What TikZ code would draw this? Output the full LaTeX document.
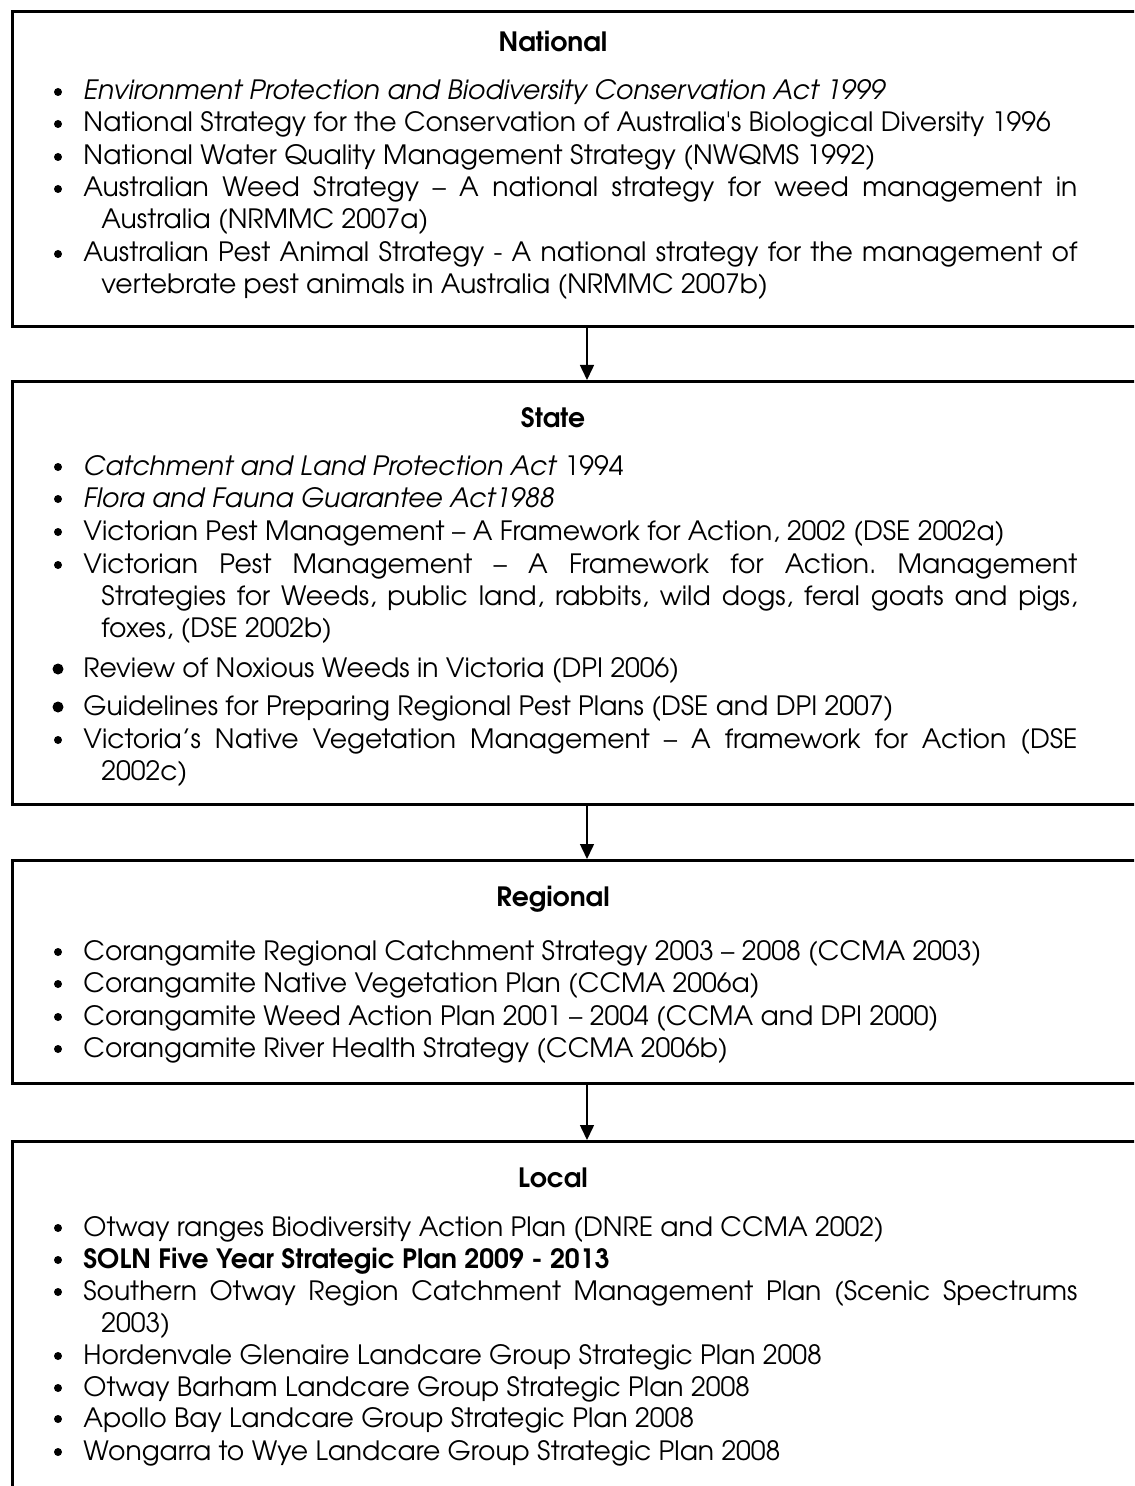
\documentclass[tikz,border=0pt]{standalone}
\usepackage{fontspec}
\IfFontExistsTF{TeX Gyre Adventor}{\setmainfont{TeX Gyre Adventor}}{\setmainfont{Poppins}}
\usetikzlibrary{arrows.meta}
\newlength{\du}
\setlength{\du}{0.5pt}
\tolerance=10000
\hbadness=10000
\frenchspacing
\newcommand{\itm}[1]{\hangindent=18\du\hangafter=1\relax #1\par}

\tikzset{
  levelbox/.style={draw=black, line width=3\du, minimum width=1250\du, inner sep=0pt, anchor=north west},
  leveltitle/.style={font=\fontsize{13.3}{16}\selectfont\bfseries, inner sep=0pt, anchor=base},
  itemtext/.style={font=\fontsize{13.3}{16}\selectfont\frenchspacing, inner sep=0pt, anchor=base west, text width=994\du, align=justify},
  flow/.style={line width=1.5\du, -{Triangle[length=7.5pt,width=7pt]}},
}

\begin{document}
\begin{tikzpicture}
\pgftransformxscale{1.000000}
\pgftransformyscale{-1.000000}
\useasboundingbox (0\du,0\du) rectangle (1134\du,1486\du);
\clip (0\du,0\du) rectangle (1134\du,1486\du);
% boxes
\node[levelbox, minimum height=315\du] (national) at (11\du,10\du) {};
\node[levelbox, minimum height=423\du] (state) at (11\du,380\du) {};
\node[levelbox, minimum height=223\du] (regional) at (11\du,859\du) {};
\node[levelbox, minimum height=420\du] (local) at (11\du,1140\du) {};
\coordinate (arrx) at (587\du,0\du);
% arrows
\draw[flow] (national.south -| arrx) -- (state.north -| arrx);
\draw[flow] (state.south -| arrx) -- (regional.north -| arrx);
\draw[flow] (regional.south -| arrx) -- (local.north -| arrx);
% National
\node[leveltitle] (natTitle) at (553\du,52\du) {National};
\node[itemtext] (nat1) at (83\du,100\du) {\itm{\textit{Environment Protection and Biodiversity Conservation Act 1999}}};
\node[itemtext] (nat2) at (83\du,132\du) {\itm{National Strategy for the Conservation of Australia\textquotesingle s Biological Diversity 1996}};
\node[itemtext] (nat3) at (83\du,165\du) {\itm{National Water Quality Management Strategy (NWQMS 1992)}};
\node[itemtext] (nat4) at (83\du,197\du) {\itm{Australian Weed Strategy -- A national strategy for weed management in\linebreak Australia (NRMMC 2007a)}};
\node[itemtext] (nat5) at (83\du,262\du) {\itm{Australian Pest Animal Strategy - A national strategy for the management of\linebreak vertebrate pest animals in Australia (NRMMC 2007b)}};
\fill (58\du,92\du) circle (4\du);
\fill (58\du,124\du) circle (4\du);
\fill (58\du,157\du) circle (4\du);
\fill (58\du,189\du) circle (4\du);
\fill (58\du,254\du) circle (4\du);
% State
\node[leveltitle] (staTitle) at (553\du,428\du) {State};
\node[itemtext] (sta1) at (83\du,475\du) {\itm{\textit{Catchment and Land Protection Act} 1994}};
\node[itemtext] (sta2) at (83\du,507\du) {\itm{\textit{Flora and Fauna Guarantee Act1988}}};
\node[itemtext] (sta3) at (83\du,540\du) {\itm{Victorian Pest Management -- A Framework for Action, 2002 (DSE 2002a)}};
\node[itemtext] (sta4) at (83\du,573\du) {\itm{Victorian Pest Management -- A Framework for Action. Management\linebreak Strategies for Weeds, public land, rabbits, wild dogs, feral goats and pigs,\linebreak foxes, (DSE 2002b)}};
\node[itemtext] (sta5) at (83\du,677\du) {\itm{Review of Noxious Weeds in Victoria (DPI 2006)}};
\node[itemtext] (sta6) at (83\du,715\du) {\itm{Guidelines for Preparing Regional Pest Plans (DSE and DPI 2007)}};
\node[itemtext] (sta7) at (83\du,748\du) {\itm{Victoria’s Native Vegetation Management -- A framework for Action (DSE\linebreak 2002c)}};
\fill (58\du,467\du) circle (4\du);
\fill (58\du,499\du) circle (4\du);
\fill (58\du,532\du) circle (4\du);
\fill (58\du,565\du) circle (4\du);
\fill (58\du,669\du) circle (5.5\du);
\fill (58\du,707\du) circle (5.5\du);
\fill (58\du,740\du) circle (4\du);
% Regional
\node[leveltitle] (regTitle) at (553\du,906\du) {Regional};
\node[itemtext] (reg1) at (83\du,960\du) {\itm{Corangamite Regional Catchment Strategy 2003 -- 2008 (CCMA 2003)}};
\node[itemtext] (reg2) at (83\du,992\du) {\itm{Corangamite Native Vegetation Plan (CCMA 2006a)}};
\node[itemtext] (reg3) at (83\du,1025\du) {\itm{Corangamite Weed Action Plan 2001 -- 2004 (CCMA and DPI 2000)}};
\node[itemtext] (reg4) at (83\du,1057\du) {\itm{Corangamite River Health Strategy (CCMA 2006b)}};
\fill (58\du,952\du) circle (4\du);
\fill (58\du,984\du) circle (4\du);
\fill (58\du,1017\du) circle (4\du);
\fill (58\du,1049\du) circle (4\du);
% Local
\node[leveltitle] (locTitle) at (553\du,1187\du) {Local};
\node[itemtext] (loc1) at (83\du,1236\du) {\itm{Otway ranges Biodiversity Action Plan (DNRE and CCMA 2002)}};
\node[itemtext] (loc2) at (83\du,1268\du) {\itm{\textbf{SOLN Five Year Strategic Plan 2009 - 2013}}};
\node[itemtext] (loc3) at (83\du,1300\du) {\itm{Southern Otway Region Catchment Management Plan (Scenic Spectrums\linebreak 2003)}};
\node[itemtext] (loc4) at (83\du,1364\du) {\itm{Hordenvale Glenaire Landcare Group Strategic Plan 2008}};
\node[itemtext] (loc5) at (83\du,1396\du) {\itm{Otway Barham Landcare Group Strategic Plan 2008}};
\node[itemtext] (loc6) at (83\du,1427\du) {\itm{Apollo Bay Landcare Group Strategic Plan 2008}};
\node[itemtext] (loc7) at (83\du,1460\du) {\itm{Wongarra to Wye Landcare Group Strategic Plan 2008}};
\fill (58\du,1228\du) circle (4\du);
\fill (58\du,1260\du) circle (4\du);
\fill (58\du,1292\du) circle (4\du);
\fill (58\du,1356\du) circle (4\du);
\fill (58\du,1388\du) circle (4\du);
\fill (58\du,1419\du) circle (4\du);
\fill (58\du,1452\du) circle (4\du);
\end{tikzpicture}
\end{document}
